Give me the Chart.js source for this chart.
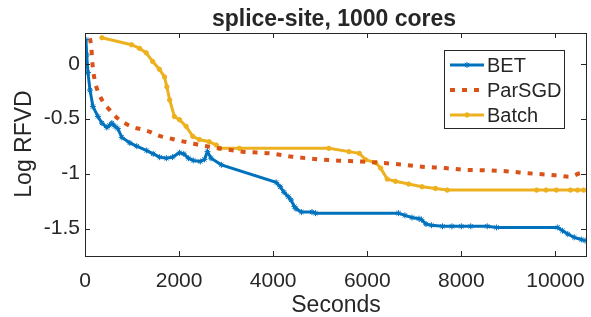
<!DOCTYPE html>
<html>
<head>
<meta charset="utf-8">
<script src="https://cdn.jsdelivr.net/npm/chart.js@4/dist/chart.umd.min.js"></script>
<style>
  html, body { margin: 0; padding: 0; background: #fff; }
  #wrap { width: 591px; height: 317px; }
</style>
</head>
<body>
<div id="wrap"><canvas id="c" width="591" height="317"></canvas></div>
<script>
// data
const xTicks = [0, 2000, 4000, 6000, 8000, 10000];
const yTicks = [-1.5, -1, -0.5, 0];

const betX = [20, 36, 63, 106, 169, 275, 360, 465, 520, 571, 640, 698, 783, 952, 1100, 1312, 1450, 1587, 1730, 1862,
  2010, 2100, 2200, 2300, 2450, 2540, 2603, 2680, 2899, 4063, 4150, 4232, 4320, 4380, 4450, 4486, 4600, 4825, 4900,
  6665, 6800, 6950, 7100, 7152, 7250, 7364, 7600, 7800, 8000, 8200, 8550, 8750, 10050, 10150, 10263, 10400, 10550, 10630];
const betY = [0.22, 0.08, -0.08, -0.24, -0.39, -0.48, -0.54, -0.58, -0.56, -0.54, -0.57, -0.59, -0.67, -0.72, -0.75, -0.79, -0.82, -0.85, -0.86, -0.85,
  -0.81, -0.82, -0.86, -0.88, -0.89, -0.87, -0.80, -0.86, -0.92, -1.08, -1.12, -1.17, -1.21, -1.24, -1.30, -1.32, -1.35, -1.35, -1.36,
  -1.36, -1.38, -1.40, -1.41, -1.42, -1.46, -1.47, -1.48, -1.48, -1.48, -1.48, -1.48, -1.49, -1.49, -1.52, -1.55, -1.58, -1.60, -1.61];

const sgdX = [60, 100, 136, 157, 205, 275, 381, 523, 665, 840, 1017, 1195, 1370, 1583, 1795, 2006, 2218, 2430, 2642,
  3350, 3915, 4405, 4970, 5395, 5880, 6600, 7160, 7655, 8080, 8500, 9000, 9420, 9840, 10090, 10300, 10520, 10620];
const sgdY = [0.45, 0.255, 0.143, 0.006, -0.146, -0.253, -0.344, -0.42, -0.486, -0.54, -0.577, -0.596, -0.618, -0.657, -0.678, -0.70, -0.718, -0.739, -0.755,
  -0.80, -0.815, -0.846, -0.87, -0.882, -0.89, -0.912, -0.937, -0.95, -0.966, -0.97, -0.98, -0.997, -1.01, -1.02, -1.028, -0.997, -0.99];

const batchX = [360, 989, 1160, 1300, 1440, 1580, 1690, 1740, 1800, 1900, 2010, 2150, 2290, 2430, 2640, 2790, 2860, 3280,
  5185, 5610, 5830, 5970, 6180, 6285, 6425, 6600, 6880, 7165, 7450, 7700, 9600, 9800, 10020, 10320, 10470, 10600];
const batchY = [0.237, 0.173, 0.14, 0.10, 0.02, -0.05, -0.12, -0.21, -0.33, -0.48, -0.51, -0.57, -0.66, -0.69, -0.71, -0.74, -0.77, -0.77,
  -0.77, -0.80, -0.815, -0.875, -0.90, -0.95, -1.05, -1.07, -1.095, -1.12, -1.135, -1.15, -1.15, -1.15, -1.15, -1.15, -1.15, -1.15];

const seriesNames = ["BET", "ParSGD", "Batch"];

const FONT = '"Liberation Sans", Arial, Helvetica, sans-serif';
const INK = '#262626';
const BLUE = '#0072BD', ORANGE = '#D95319', YELLOW = '#EDB120';

function pts(xs, ys) {
  return xs.map((x, i) => ({ x: x, y: ys[i] }));
}

// box, inward ticks, title, axis titles, legend
const matlabLook = {
  id: 'matlabLook',
  afterDraw(chart) {
    const ctx = chart.ctx;
    const a = chart.chartArea;
    const xs = chart.scales.x, ys = chart.scales.y;
    ctx.save();
    ctx.strokeStyle = INK;
    ctx.lineWidth = 1;
    ctx.strokeRect(Math.round(a.left) + 0.5, Math.round(a.top) + 0.5,
      Math.round(a.right - a.left), Math.round(a.bottom - a.top));
    ctx.beginPath();
    xTicks.forEach(v => {
      const px = Math.round(xs.getPixelForValue(v)) + 0.5;
      ctx.moveTo(px, a.bottom); ctx.lineTo(px, a.bottom - 5);
      ctx.moveTo(px, a.top); ctx.lineTo(px, a.top + 5);
    });
    yTicks.forEach(v => {
      const py = Math.round(ys.getPixelForValue(v)) + 0.5;
      ctx.moveTo(a.left, py); ctx.lineTo(a.left + 5, py);
      ctx.moveTo(a.right, py); ctx.lineTo(a.right - 5, py);
    });
    ctx.stroke();

    ctx.fillStyle = INK;
    ctx.textAlign = 'center';
    ctx.textBaseline = 'alphabetic';
    ctx.font = 'bold 23px ' + FONT;
    ctx.fillText('splice-site, 1000 cores', 334, 26);
    ctx.font = '23px ' + FONT;
    ctx.fillText('Seconds', 336, 312);
    ctx.save();
    ctx.translate(31, 144);
    ctx.rotate(-Math.PI / 2);
    ctx.fillText('Log RFVD', 0, 0);
    ctx.restore();

    // legend
    const lx = 444, ly = 50, lw = 120, lh = 78;
    ctx.fillStyle = '#fff';
    ctx.fillRect(lx, ly, lw, lh);
    ctx.strokeStyle = INK;
    ctx.strokeRect(lx + 0.5, ly + 0.5, lw, lh);
    chart.data.datasets.forEach((ds, i) => {
      const y = 65 + i * 25;
      ctx.save();
      ctx.strokeStyle = ds.borderColor;
      ctx.lineWidth = ds.borderWidth;
      ctx.setLineDash(ds.borderDash || []);
      ctx.beginPath();
      ctx.moveTo(450, y); ctx.lineTo(484, y);
      ctx.stroke();
      ctx.restore();
      if (ds.pointRadius > 0) {
        ctx.save();
        ctx.fillStyle = ds.pointBackgroundColor;
        ctx.strokeStyle = ds.pointBorderColor;
        ctx.lineWidth = 1;
        Chart.helpers.drawPoint(ctx, { pointStyle: ds.pointStyle, radius: ds.pointRadius, rotation: 0, borderWidth: 1 }, 467, y);
        ctx.restore();
      }
      ctx.fillStyle = INK;
      ctx.textAlign = 'left';
      ctx.textBaseline = 'middle';
      ctx.font = '20px ' + FONT;
      ctx.fillText(seriesNames[i], 487, y + 1);
    });
    ctx.restore();
  }
};

new Chart(document.getElementById('c'), {
  type: 'scatter',
  data: {
    datasets: [
      {
        label: seriesNames[0], data: pts(betX, betY), showLine: true,
        borderColor: BLUE, borderWidth: 3,
        pointStyle: 'star', pointRadius: 3, pointBorderColor: BLUE, pointBackgroundColor: BLUE, pointBorderWidth: 1
      },
      {
        label: seriesNames[1], data: pts(sgdX, sgdY), showLine: true,
        borderColor: ORANGE, borderWidth: 4, borderDash: [5, 7], cubicInterpolationMode: 'monotone',
        pointRadius: 0, clip: 1
      },
      {
        label: seriesNames[2], data: pts(batchX, batchY), showLine: true,
        borderColor: YELLOW, borderWidth: 3,
        pointStyle: 'circle', pointRadius: 2.2, pointBorderColor: YELLOW, pointBackgroundColor: YELLOW, pointBorderWidth: 1
      }
    ]
  },
  options: {
    responsive: false,
    animation: false,
    layout: { padding: { top: 33, right: 3, left: 0, bottom: 0 } },
    plugins: { legend: { display: false }, title: { display: false }, tooltip: { enabled: false } },
    scales: {
      x: {
        type: 'linear', min: 0, max: 10650,
        afterBuildTicks: s => { s.ticks = xTicks.map(v => ({ value: v })); },
        afterFit: s => { s.height = 61; s.paddingLeft = 0; s.paddingRight = 0; },
        grid: { display: false, drawTicks: false },
        border: { display: false },
        ticks: { color: INK, font: { family: FONT, size: 21 }, padding: 13, maxRotation: 0, callback: v => String(v) }
      },
      y: {
        type: 'linear', min: -1.75, max: 0.28,
        afterBuildTicks: s => { s.ticks = yTicks.map(v => ({ value: v })); },
        afterFit: s => { s.width = 85; s.paddingTop = 0; s.paddingBottom = 0; },
        grid: { display: false, drawTicks: false },
        border: { display: false },
        ticks: { color: INK, font: { family: FONT, size: 21 }, padding: 5, callback: v => String(v) }
      }
    }
  },
  plugins: [matlabLook]
});
</script>
</body>
</html>
